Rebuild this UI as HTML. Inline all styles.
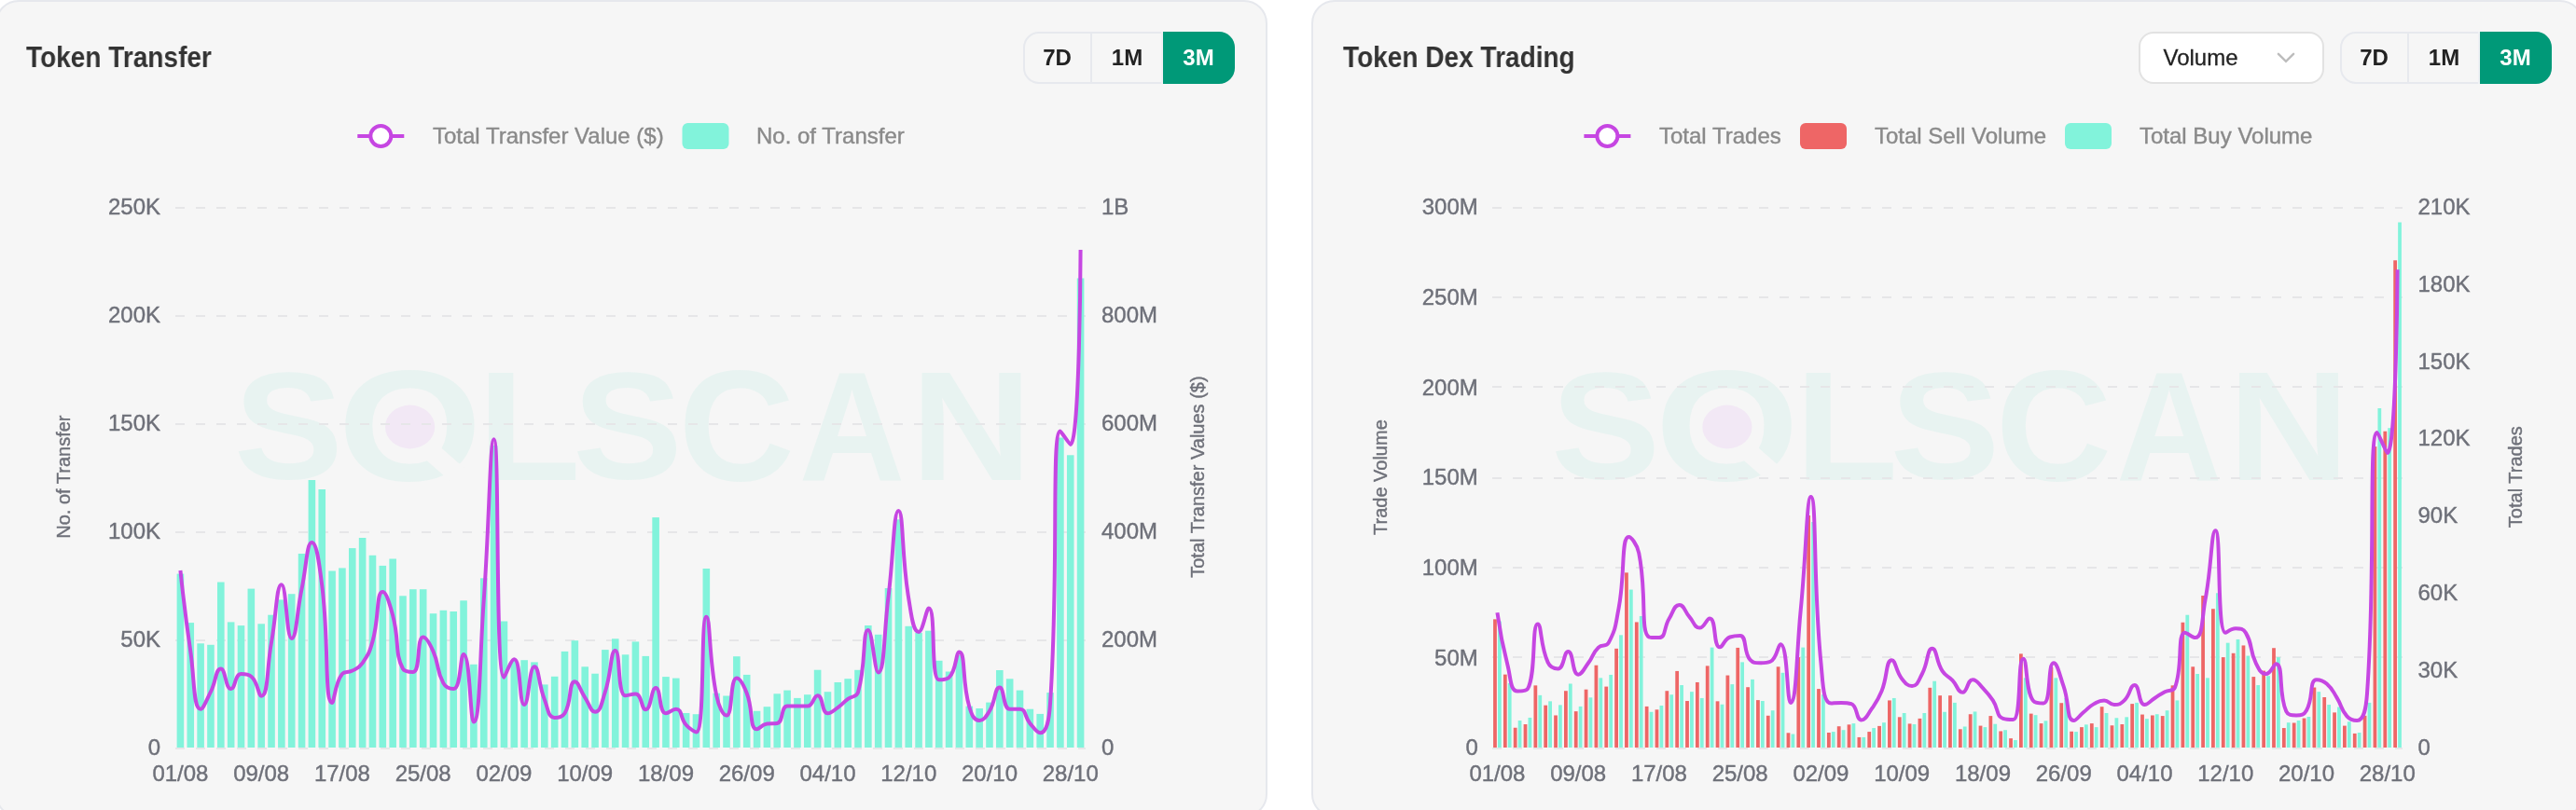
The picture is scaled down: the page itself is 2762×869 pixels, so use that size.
<!DOCTYPE html>
<html lang="en">
<head>
<meta charset="utf-8">
<title>Token Analytics</title>
<style>
html,body{margin:0;padding:0;background:#fff;width:2762px;height:869px;}
.page{width:2762px;height:869px;overflow:hidden;position:relative;background:#fff;font-family:"Liberation Sans",Arial,Helvetica,sans-serif;}
.card{position:absolute;top:0;height:877px;width:1364px;box-sizing:border-box;background:#f6f6f6;border:2px solid #e6e8ed;border-radius:25px;}
.card.c1{left:-5.5px;}
.card.c2{left:1405.5px;}
.title{position:absolute;top:39px;margin:0;font-size:32px;line-height:40px;font-weight:bold;color:#333;white-space:nowrap;transform-origin:0 50%;transform:scaleX(0.876);}
.seg{position:absolute;top:32px;height:56px;width:227px;}
.seg .frame{position:absolute;left:0;top:0;width:227px;height:56px;box-sizing:border-box;border:2px solid #e7e9ee;border-radius:17px;}
.seg span{position:absolute;top:0;height:56px;font-size:24px;font-weight:bold;line-height:55px;text-align:center;color:#222;}
.seg .b7{left:0;width:73px;}
.seg .b7:after{content:"";position:absolute;right:-1px;top:2px;width:2px;height:52px;background:#e7e9ee;}
.seg .b1:after{content:"";position:absolute;right:0;top:0;width:2px;height:56px;background:#eff0f4;}
.seg .b1{left:73px;width:77px;}

.seg .b3{left:150px;width:77px;text-indent:-1px;background:#009978;color:#fff;border-radius:0 17px 17px 0;}
.select{position:absolute;left:885.5px;top:32px;width:199px;height:56px;box-sizing:border-box;border:2px solid #e2e2e2;border-radius:16px;background:#fff;font-size:24px;line-height:51px;color:#222;padding-left:24.5px;-webkit-text-stroke:0.3px #222;}
.select svg{position:absolute;left:145px;top:20px;}
svg.charts{position:absolute;overflow:visible;}
.title,.seg,.select,svg.charts{will-change:transform;}
svg.charts text{stroke-width:0.4px;}
svg.charts g.wm text{stroke:none;}
</style>
</head>
<body>
<main class="page">
<section class="card c1">
<h2 class="title" style="left:31.5px">Token Transfer</h2>
<div class="seg" style="left:1100.5px"><div class="frame"></div><span class="b7">7D</span><span class="b1">1M</span><span class="b3">3M</span></div>
<svg class="charts" style="left:3.5px;top:-2px" width="1380" height="869" viewBox="0 0 1380 869" font-family='"Liberation Sans", Arial, Helvetica, sans-serif'>
<g class="chart-transfer">
<g class="wm" font-weight="bold" font-size="161" fill="#e8f3f1"><text transform="translate(250.74 512.98) scale(1.0917 1.0114)">S</text><text transform="translate(362.16 515.4) scale(1.2342 1.0482)">O</text><text transform="translate(512.12 515) scale(1.1256 1.0387)">L</text><text transform="translate(614.11 512.98) scale(1.0979 1.0114)">S</text><text transform="translate(727.4 515.4) scale(1.0714 1.0482)">C</text><text transform="translate(856.79 515) scale(0.9769 1.0387)">A</text><text transform="translate(976.6 515) scale(1.1181 1.0387)">N</text></g><line x1="461.3" y1="483.7" x2="498.3" y2="516.2" stroke="#f6f6f6" stroke-width="20.5"/><ellipse cx="439.6" cy="458" rx="26.6" ry="23.4" fill="#f2e8f5"/>
<g stroke="#e6e6e8" stroke-width="2" stroke-dasharray="10 12"><line x1="188" x2="1164" y1="803" y2="803"/><line x1="188" x2="1164" y1="687" y2="687"/><line x1="188" x2="1164" y1="571" y2="571"/><line x1="188" x2="1164" y1="455" y2="455"/><line x1="188" x2="1164" y1="339" y2="339"/><line x1="188" x2="1164" y1="223" y2="223"/></g>
<g fill="#82f3db"><rect x="189.63" y="615.6" width="7.59" height="186.4"/><rect x="200.47" y="668.1" width="7.59" height="133.9"/><rect x="211.32" y="690.3" width="7.59" height="111.7"/><rect x="222.16" y="691.8" width="7.59" height="110.2"/><rect x="233" y="624.5" width="7.59" height="177.5"/><rect x="243.85" y="667.4" width="7.59" height="134.6"/><rect x="254.69" y="671.1" width="7.59" height="130.9"/><rect x="265.54" y="631.6" width="7.59" height="170.4"/><rect x="276.38" y="669.3" width="7.59" height="132.7"/><rect x="287.23" y="659.7" width="7.59" height="142.3"/><rect x="298.07" y="643.4" width="7.59" height="158.6"/><rect x="308.92" y="637.2" width="7.59" height="164.8"/><rect x="319.76" y="594" width="7.59" height="208"/><rect x="330.6" y="515" width="7.59" height="287"/><rect x="341.45" y="525" width="7.59" height="277"/><rect x="352.29" y="612.5" width="7.59" height="189.5"/><rect x="363.14" y="609.4" width="7.59" height="192.6"/><rect x="373.98" y="588.1" width="7.59" height="213.9"/><rect x="384.83" y="577" width="7.59" height="225"/><rect x="395.67" y="595.8" width="7.59" height="206.2"/><rect x="406.52" y="606.9" width="7.59" height="195.1"/><rect x="417.36" y="599.5" width="7.59" height="202.5"/><rect x="428.2" y="639.3" width="7.59" height="162.7"/><rect x="439.05" y="632.2" width="7.59" height="169.8"/><rect x="449.89" y="632.2" width="7.59" height="169.8"/><rect x="460.74" y="658.2" width="7.59" height="143.8"/><rect x="471.58" y="654.8" width="7.59" height="147.2"/><rect x="482.43" y="656" width="7.59" height="146"/><rect x="493.27" y="644.3" width="7.59" height="157.7"/><rect x="504.12" y="712.8" width="7.59" height="89.2"/><rect x="514.96" y="620.3" width="7.59" height="181.7"/><rect x="525.8" y="478" width="7.59" height="324"/><rect x="536.65" y="666.5" width="7.59" height="135.5"/><rect x="547.49" y="709" width="7.59" height="93"/><rect x="558.34" y="708.2" width="7.59" height="93.8"/><rect x="569.18" y="710.4" width="7.59" height="91.6"/><rect x="580.03" y="734.4" width="7.59" height="67.6"/><rect x="590.87" y="725.8" width="7.59" height="76.2"/><rect x="601.72" y="698.9" width="7.59" height="103.1"/><rect x="612.56" y="687.2" width="7.59" height="114.8"/><rect x="623.4" y="715.3" width="7.59" height="86.7"/><rect x="634.25" y="722.7" width="7.59" height="79.3"/><rect x="645.09" y="697.1" width="7.59" height="104.9"/><rect x="655.94" y="685.3" width="7.59" height="116.7"/><rect x="666.78" y="702.3" width="7.59" height="99.7"/><rect x="677.63" y="688.4" width="7.59" height="113.6"/><rect x="688.47" y="703.9" width="7.59" height="98.1"/><rect x="699.32" y="555.1" width="7.59" height="246.9"/><rect x="710.16" y="726.1" width="7.59" height="75.9"/><rect x="721" y="727.6" width="7.59" height="74.4"/><rect x="731.85" y="765" width="7.59" height="37"/><rect x="742.69" y="766.2" width="7.59" height="35.8"/><rect x="753.54" y="610" width="7.59" height="192"/><rect x="764.38" y="743.7" width="7.59" height="58.3"/><rect x="775.23" y="746.5" width="7.59" height="55.5"/><rect x="786.07" y="704.2" width="7.59" height="97.8"/><rect x="796.92" y="723.9" width="7.59" height="78.1"/><rect x="807.76" y="762.8" width="7.59" height="39.2"/><rect x="818.6" y="758.2" width="7.59" height="43.8"/><rect x="829.45" y="744.3" width="7.59" height="57.7"/><rect x="840.29" y="740.6" width="7.59" height="61.4"/><rect x="851.14" y="748.9" width="7.59" height="53.1"/><rect x="861.98" y="745.2" width="7.59" height="56.8"/><rect x="872.83" y="718.7" width="7.59" height="83.3"/><rect x="883.67" y="742.2" width="7.59" height="59.8"/><rect x="894.52" y="732" width="7.59" height="70"/><rect x="905.36" y="728.2" width="7.59" height="73.8"/><rect x="916.2" y="718.8" width="7.59" height="83.2"/><rect x="927.05" y="671" width="7.59" height="131"/><rect x="937.89" y="680.8" width="7.59" height="121.2"/><rect x="948.74" y="631" width="7.59" height="171"/><rect x="959.58" y="557.3" width="7.59" height="244.7"/><rect x="970.43" y="671.8" width="7.59" height="130.2"/><rect x="981.27" y="678.9" width="7.59" height="123.1"/><rect x="992.12" y="676.7" width="7.59" height="125.3"/><rect x="1002.96" y="708.8" width="7.59" height="93.2"/><rect x="1013.8" y="720.5" width="7.59" height="81.5"/><rect x="1024.65" y="703" width="7.59" height="99"/><rect x="1035.49" y="757.6" width="7.59" height="44.4"/><rect x="1046.34" y="760" width="7.59" height="42"/><rect x="1057.18" y="753.6" width="7.59" height="48.4"/><rect x="1068.03" y="719" width="7.59" height="83"/><rect x="1078.87" y="728.3" width="7.59" height="73.7"/><rect x="1089.72" y="740.6" width="7.59" height="61.4"/><rect x="1100.56" y="760.7" width="7.59" height="41.3"/><rect x="1111.4" y="765.9" width="7.59" height="36.1"/><rect x="1122.25" y="743.1" width="7.59" height="58.9"/><rect x="1133.09" y="469.5" width="7.59" height="332.5"/><rect x="1143.94" y="488.3" width="7.59" height="313.7"/><rect x="1154.78" y="298.5" width="7.59" height="503.5"/></g>
<path d="M193.42 612C193.42 612 197.95 655.58 204.27 698.9C208.79 729.93 207.03 760.7 215.11 760.7C217.87 760.7 221.15 751.77 225.96 742.2C232 730.17 231.08 717.5 236.8 717.5C241.92 717.5 241.63 739.1 247.64 739.1C252.47 739.1 251.61 723 258.49 723C262.46 723 265.85 723 269.33 725.8C276.69 731.71 277.07 746.8 280.18 746.8C287.91 746.8 285.77 717.93 291.02 689C296.62 658.18 296.27 627.3 301.87 627.3C307.11 627.3 307.09 685 312.71 685C317.93 685 317.94 658.26 323.56 631.6C328.79 606.76 328.78 582 334.4 582C339.62 582 342.3 604.55 345.24 627.9C353.14 690.5 347.47 753.9 356.09 753.9C358.32 753.9 358.88 732.8 366.93 723C369.73 719.6 372.85 722.26 377.78 719.6C383.7 716.41 384.85 716.78 388.62 711.3C395.7 701.03 395.99 700.34 399.47 688.1C406.83 662.19 403.12 635 410.31 635C413.96 635 417.67 647.06 421.16 660.3C428.52 688.31 422.93 700.08 432 717.5C433.77 720.9 440.39 720.9 442.84 720.9C451.24 720.9 446.38 683.5 453.69 683.5C457.22 683.5 460.79 690.37 464.53 698.9C471.63 715.07 467.35 718.01 475.38 732.9C478.19 738.11 483.57 739.1 486.22 739.1C494.42 739.1 493.33 702 497.07 702C504.17 702 504.03 774.6 507.91 774.6C514.87 774.6 514.06 709.05 518.76 643.4C524.91 557.4 525.23 471.3 529.6 471.3C536.08 471.3 530.47 726.7 540.44 726.7C541.31 726.7 547.95 707.3 551.29 707.3C558.79 707.3 556.25 756 562.13 756C567.1 756 567.19 715.3 572.98 715.3C578.04 715.3 577.06 733.47 583.82 750.5C587.9 760.77 587.58 769.9 594.67 769.9C598.42 769.9 602.82 769.9 605.51 765.3C613.66 751.36 609.43 731.3 616.36 731.3C620.27 731.3 621.6 739.92 627.2 748.3C632.45 756.17 633.28 763.8 638.04 763.8C644.13 763.8 645.13 753.61 648.89 742.2C655.97 720.71 654.53 698 659.73 698C665.38 698 661.7 746.2 670.58 746.2C672.55 746.2 677.57 744.6 681.42 744.6C688.42 744.6 687.52 761.3 692.27 761.3C698.37 761.3 698.05 738.1 703.11 738.1C708.9 738.1 706.22 765.3 713.96 765.3C717.07 765.3 720.8 760.7 724.8 760.7C731.65 760.7 729.11 770.26 735.64 777.7C739.95 782.61 745.44 785.4 746.49 785.4C756.28 785.4 750.89 661.7 757.33 661.7C761.74 661.7 759.74 704.72 768.18 745.9C770.58 757.62 775.02 767.5 779.02 767.5C785.87 767.5 782.49 727.6 789.87 727.6C793.33 727.6 797.17 734.78 800.71 743.7C808.02 762.13 803.25 782.3 811.56 782.3C814.09 782.3 816.65 777.28 822.4 776.6C827.5 776 829.59 776.6 833.24 776C840.43 774.82 836.9 757.6 844.09 757.6C847.74 757.6 849.51 757.6 854.93 757.6C860.36 757.6 861.35 757.6 865.78 757.6C872.2 757.6 872.1 746.2 876.62 746.2C882.94 746.2 880.55 765.3 887.47 765.3C891.4 765.3 893.24 762.7 898.31 759.1C904.08 755 903.48 754.16 909.16 749.9C914.33 746.01 918.26 748.74 920 742.8C929.1 711.79 924.43 676 930.84 676C935.27 676 937.76 721.4 941.69 721.4C948.6 721.4 947.44 680.74 952.53 640C958.28 594.04 958.01 548 963.38 548C968.85 548 966.47 595.38 974.22 641.8C977.32 660.33 978.8 677.9 985.07 677.9C989.64 677.9 993.07 652.6 995.91 652.6C1003.91 652.6 997.27 729.2 1006.76 729.2C1008.12 729.2 1014.61 729.2 1017.6 726.7C1025.46 720.12 1024.88 699.5 1028.44 699.5C1035.72 699.5 1030.99 730.09 1039.29 758.2C1041.84 766.84 1044.15 773 1050.13 773C1054.99 773 1057.17 769.03 1060.98 762.8C1068.02 751.28 1066.2 737.5 1071.82 737.5C1077.05 737.5 1075.05 760.7 1082.67 760.7C1085.89 760.7 1089.55 760.7 1093.51 760.7C1100.39 760.7 1098.3 768.95 1104.36 776.1C1109.14 781.75 1111.87 786.3 1115.2 786.3C1122.71 786.3 1124.93 771.2 1126.04 754.5C1135.77 609.35 1126.67 462.6 1136.89 462.6C1137.52 462.6 1146.87 477 1147.73 477C1157.72 477 1158.58 268 1158.58 268" fill="none" stroke="#c646e2" stroke-width="4" stroke-linejoin="round"/>
<text x="172" y="810.2" font-size="24" fill="#6E7079" stroke="#6E7079" text-anchor="end">0</text>
<text x="172" y="694.2" font-size="24" fill="#6E7079" stroke="#6E7079" text-anchor="end">50K</text>
<text x="172" y="578.2" font-size="24" fill="#6E7079" stroke="#6E7079" text-anchor="end">100K</text>
<text x="172" y="462.2" font-size="24" fill="#6E7079" stroke="#6E7079" text-anchor="end">150K</text>
<text x="172" y="346.2" font-size="24" fill="#6E7079" stroke="#6E7079" text-anchor="end">200K</text>
<text x="172" y="230.2" font-size="24" fill="#6E7079" stroke="#6E7079" text-anchor="end">250K</text>
<text x="1181" y="810.2" font-size="24" fill="#6E7079" stroke="#6E7079" text-anchor="start">0</text>
<text x="1181" y="694.2" font-size="24" fill="#6E7079" stroke="#6E7079" text-anchor="start">200M</text>
<text x="1181" y="578.2" font-size="24" fill="#6E7079" stroke="#6E7079" text-anchor="start">400M</text>
<text x="1181" y="462.2" font-size="24" fill="#6E7079" stroke="#6E7079" text-anchor="start">600M</text>
<text x="1181" y="346.2" font-size="24" fill="#6E7079" stroke="#6E7079" text-anchor="start">800M</text>
<text x="1181" y="230.2" font-size="24" fill="#6E7079" stroke="#6E7079" text-anchor="start">1B</text>
<text x="193.42" y="838" font-size="24" fill="#6E7079" stroke="#6E7079" text-anchor="middle">01/08</text><text x="280.18" y="838" font-size="24" fill="#6E7079" stroke="#6E7079" text-anchor="middle">09/08</text><text x="366.93" y="838" font-size="24" fill="#6E7079" stroke="#6E7079" text-anchor="middle">17/08</text><text x="453.69" y="838" font-size="24" fill="#6E7079" stroke="#6E7079" text-anchor="middle">25/08</text><text x="540.44" y="838" font-size="24" fill="#6E7079" stroke="#6E7079" text-anchor="middle">02/09</text><text x="627.2" y="838" font-size="24" fill="#6E7079" stroke="#6E7079" text-anchor="middle">10/09</text><text x="713.96" y="838" font-size="24" fill="#6E7079" stroke="#6E7079" text-anchor="middle">18/09</text><text x="800.71" y="838" font-size="24" fill="#6E7079" stroke="#6E7079" text-anchor="middle">26/09</text><text x="887.47" y="838" font-size="24" fill="#6E7079" stroke="#6E7079" text-anchor="middle">04/10</text><text x="974.22" y="838" font-size="24" fill="#6E7079" stroke="#6E7079" text-anchor="middle">12/10</text><text x="1060.98" y="838" font-size="24" fill="#6E7079" stroke="#6E7079" text-anchor="middle">20/10</text><text x="1147.73" y="838" font-size="24" fill="#6E7079" stroke="#6E7079" text-anchor="middle">28/10</text>
<text transform="translate(74.9 511.6) rotate(-90)" font-size="20" fill="#6E7079" stroke="#6E7079" text-anchor="middle">No. of Transfer</text>
<text transform="translate(1291 511.6) rotate(-90)" font-size="20" fill="#6E7079" stroke="#6E7079" text-anchor="middle">Total Transfer Values ($)</text>
<line x1="383.3" x2="433.3" y1="146" y2="146" stroke="#c646e2" stroke-width="4"/><circle cx="408.3" cy="146" r="11" fill="#fff" stroke="#c646e2" stroke-width="4"/>
<text x="464" y="154" font-size="24" fill="#8a8a8a" stroke="#8a8a8a" text-anchor="start">Total Transfer Value ($)</text>
<rect x="731.5" y="132" width="50" height="28" rx="6" fill="#82f3db"/>
<text x="811" y="154" font-size="24" fill="#8a8a8a" stroke="#8a8a8a" text-anchor="start">No. of Transfer</text>
</g>
</svg>
</section>
<section class="card c2">
<h2 class="title" style="left:32.5px">Token Dex Trading</h2>
<div class="select">Volume<svg width="24" height="16" viewBox="0 0 24 16"><path d="M2.9 1.9 L11 9.8 L19.1 1.9" fill="none" stroke="#bdbdbd" stroke-width="2.5" stroke-linecap="round" stroke-linejoin="miter"/></svg></div>
<div class="seg" style="left:1101.5px"><div class="frame"></div><span class="b7">7D</span><span class="b1">1M</span><span class="b3">3M</span></div>
<svg class="charts" style="left:-27.5px;top:-2px" width="1382" height="869" viewBox="1380 0 1382 869" font-family='"Liberation Sans", Arial, Helvetica, sans-serif'>
<g class="chart-dex">
<g class="wm" font-weight="bold" font-size="161" fill="#e8f3f1"><text transform="translate(1663.04 512.98) scale(1.0917 1.0114)">S</text><text transform="translate(1774.46 515.4) scale(1.2342 1.0482)">O</text><text transform="translate(1924.42 515) scale(1.1256 1.0387)">L</text><text transform="translate(2026.41 512.98) scale(1.0979 1.0114)">S</text><text transform="translate(2139.7 515.4) scale(1.0714 1.0482)">C</text><text transform="translate(2269.09 515) scale(0.9769 1.0387)">A</text><text transform="translate(2388.9 515) scale(1.1181 1.0387)">N</text></g><line x1="1873.6" y1="483.7" x2="1910.6" y2="516.2" stroke="#f6f6f6" stroke-width="20.5"/><ellipse cx="1851.9" cy="458" rx="26.6" ry="23.4" fill="#f2e8f5"/>
<g stroke="#e6e6e8" stroke-width="2" stroke-dasharray="10 12"><line x1="1600" x2="2576" y1="803" y2="803"/><line x1="1600" x2="2576" y1="705" y2="705"/><line x1="1600" x2="2576" y1="609" y2="609"/><line x1="1600" x2="2576" y1="513" y2="513"/><line x1="1600" x2="2576" y1="415" y2="415"/><line x1="1600" x2="2576" y1="319" y2="319"/><line x1="1600" x2="2576" y1="223" y2="223"/></g>
<g fill="#ee6666"><rect x="1601.08" y="664.35" width="3.77" height="137.65"/><rect x="1611.93" y="723.63" width="3.77" height="78.37"/><rect x="1622.77" y="780.75" width="3.77" height="21.25"/><rect x="1633.62" y="777.04" width="3.77" height="24.96"/><rect x="1644.46" y="735.36" width="3.77" height="66.64"/><rect x="1655.31" y="756.67" width="3.77" height="45.33"/><rect x="1666.15" y="767.47" width="3.77" height="34.53"/><rect x="1677" y="741.23" width="3.77" height="60.77"/><rect x="1687.84" y="763.15" width="3.77" height="38.85"/><rect x="1698.68" y="739.69" width="3.77" height="62.31"/><rect x="1709.53" y="713.75" width="3.77" height="88.25"/><rect x="1720.37" y="736.6" width="3.77" height="65.4"/><rect x="1731.22" y="695.84" width="3.77" height="106.16"/><rect x="1742.06" y="614.34" width="3.77" height="187.66"/><rect x="1752.91" y="667.44" width="3.77" height="134.56"/><rect x="1763.75" y="757.9" width="3.77" height="44.1"/><rect x="1774.6" y="761.3" width="3.77" height="40.7"/><rect x="1785.44" y="741.23" width="3.77" height="60.77"/><rect x="1796.28" y="719.93" width="3.77" height="82.07"/><rect x="1807.13" y="752.03" width="3.77" height="49.97"/><rect x="1817.97" y="731.97" width="3.77" height="70.03"/><rect x="1828.82" y="714.37" width="3.77" height="87.63"/><rect x="1839.66" y="752.34" width="3.77" height="49.66"/><rect x="1850.51" y="724.56" width="3.77" height="77.44"/><rect x="1861.35" y="694.92" width="3.77" height="107.08"/><rect x="1872.2" y="737.22" width="3.77" height="64.78"/><rect x="1883.04" y="751.11" width="3.77" height="50.89"/><rect x="1893.88" y="767.78" width="3.77" height="34.22"/><rect x="1904.73" y="715.29" width="3.77" height="86.71"/><rect x="1915.57" y="786.3" width="3.77" height="15.7"/><rect x="1926.42" y="705.11" width="3.77" height="96.89"/><rect x="1937.26" y="553" width="3.77" height="249"/><rect x="1948.11" y="739.07" width="3.77" height="62.93"/><rect x="1958.95" y="786" width="3.77" height="16"/><rect x="1969.8" y="779.2" width="3.77" height="22.8"/><rect x="1980.64" y="777.35" width="3.77" height="24.65"/><rect x="1991.48" y="790.94" width="3.77" height="11.06"/><rect x="2002.33" y="785.07" width="3.77" height="16.93"/><rect x="2013.17" y="778.89" width="3.77" height="23.11"/><rect x="2024.02" y="751.42" width="3.77" height="50.58"/><rect x="2034.86" y="769.32" width="3.77" height="32.68"/><rect x="2045.71" y="776.42" width="3.77" height="25.58"/><rect x="2056.55" y="770.87" width="3.77" height="31.13"/><rect x="2067.4" y="737.83" width="3.77" height="64.17"/><rect x="2078.24" y="746.17" width="3.77" height="55.83"/><rect x="2089.08" y="746.17" width="3.77" height="55.83"/><rect x="2099.93" y="782.29" width="3.77" height="19.71"/><rect x="2110.77" y="766.24" width="3.77" height="35.76"/><rect x="2121.62" y="778.59" width="3.77" height="23.41"/><rect x="2132.46" y="768.09" width="3.77" height="33.91"/><rect x="2143.31" y="784.45" width="3.77" height="17.55"/><rect x="2154.15" y="792.17" width="3.77" height="9.83"/><rect x="2165" y="701.4" width="3.77" height="100.6"/><rect x="2175.84" y="765.62" width="3.77" height="36.38"/><rect x="2186.68" y="776.12" width="3.77" height="25.88"/><rect x="2197.53" y="715.91" width="3.77" height="86.09"/><rect x="2208.37" y="754.2" width="3.77" height="47.8"/><rect x="2219.22" y="784.76" width="3.77" height="17.24"/><rect x="2230.06" y="780.13" width="3.77" height="21.87"/><rect x="2240.91" y="776.12" width="3.77" height="25.88"/><rect x="2251.75" y="758.21" width="3.77" height="43.79"/><rect x="2262.6" y="778.28" width="3.77" height="23.72"/><rect x="2273.44" y="777.04" width="3.77" height="24.96"/><rect x="2284.28" y="755.12" width="3.77" height="46.88"/><rect x="2295.13" y="766.55" width="3.77" height="35.45"/><rect x="2305.97" y="767.47" width="3.77" height="34.53"/><rect x="2316.82" y="768.09" width="3.77" height="33.91"/><rect x="2327.66" y="735.36" width="3.77" height="66.64"/><rect x="2338.51" y="667.75" width="3.77" height="134.25"/><rect x="2349.35" y="715.29" width="3.77" height="86.71"/><rect x="2360.2" y="639.04" width="3.77" height="162.96"/><rect x="2371.04" y="653.24" width="3.77" height="148.76"/><rect x="2381.88" y="705.11" width="3.77" height="96.89"/><rect x="2392.73" y="700.78" width="3.77" height="101.22"/><rect x="2403.57" y="692.45" width="3.77" height="109.55"/><rect x="2414.42" y="726.1" width="3.77" height="75.9"/><rect x="2425.26" y="719.62" width="3.77" height="82.38"/><rect x="2436.11" y="695.23" width="3.77" height="106.77"/><rect x="2446.95" y="781.06" width="3.77" height="20.94"/><rect x="2457.8" y="775.5" width="3.77" height="26.5"/><rect x="2468.64" y="770.56" width="3.77" height="31.44"/><rect x="2479.48" y="737.52" width="3.77" height="64.48"/><rect x="2490.33" y="748.02" width="3.77" height="53.98"/><rect x="2501.17" y="764.38" width="3.77" height="37.62"/><rect x="2512.02" y="778.59" width="3.77" height="23.41"/><rect x="2522.86" y="786.92" width="3.77" height="15.08"/><rect x="2533.71" y="767.78" width="3.77" height="34.22"/><rect x="2544.55" y="479.1" width="3.77" height="322.9"/><rect x="2555.4" y="462.7" width="3.77" height="339.3"/><rect x="2566.24" y="279.3" width="3.77" height="522.7"/></g>
<g fill="#82f3db"><rect x="1605.99" y="666.51" width="3.77" height="135.49"/><rect x="1616.83" y="732.89" width="3.77" height="69.11"/><rect x="1627.68" y="773.03" width="3.77" height="28.97"/><rect x="1638.52" y="769.94" width="3.77" height="32.06"/><rect x="1649.37" y="745.86" width="3.77" height="56.14"/><rect x="1660.21" y="752.34" width="3.77" height="49.66"/><rect x="1671.05" y="756.36" width="3.77" height="45.64"/><rect x="1681.9" y="733.51" width="3.77" height="68.49"/><rect x="1692.74" y="757.9" width="3.77" height="44.1"/><rect x="1703.59" y="748.33" width="3.77" height="53.67"/><rect x="1714.43" y="727.34" width="3.77" height="74.66"/><rect x="1725.28" y="723.94" width="3.77" height="78.06"/><rect x="1736.12" y="681.33" width="3.77" height="120.67"/><rect x="1746.97" y="632.55" width="3.77" height="169.45"/><rect x="1757.81" y="660.96" width="3.77" height="141.04"/><rect x="1768.65" y="763.77" width="3.77" height="38.23"/><rect x="1779.5" y="756.97" width="3.77" height="45.03"/><rect x="1790.34" y="745.24" width="3.77" height="56.76"/><rect x="1801.19" y="735.05" width="3.77" height="66.95"/><rect x="1812.03" y="742.15" width="3.77" height="59.85"/><rect x="1822.88" y="748.95" width="3.77" height="53.05"/><rect x="1833.72" y="694.61" width="3.77" height="107.39"/><rect x="1844.57" y="755.74" width="3.77" height="46.26"/><rect x="1855.41" y="734.13" width="3.77" height="67.87"/><rect x="1866.25" y="710.36" width="3.77" height="91.64"/><rect x="1877.1" y="728.88" width="3.77" height="73.12"/><rect x="1887.94" y="752.03" width="3.77" height="49.97"/><rect x="1898.79" y="762.22" width="3.77" height="39.78"/><rect x="1909.63" y="721.78" width="3.77" height="80.22"/><rect x="1920.48" y="787.54" width="3.77" height="14.46"/><rect x="1931.32" y="694.61" width="3.77" height="107.39"/><rect x="1942.17" y="560" width="3.77" height="242"/><rect x="1953.01" y="745.24" width="3.77" height="56.76"/><rect x="1963.85" y="785.07" width="3.77" height="16.93"/><rect x="1974.7" y="783.22" width="3.77" height="18.78"/><rect x="1985.54" y="776.12" width="3.77" height="25.88"/><rect x="1996.39" y="790.94" width="3.77" height="11.06"/><rect x="2007.23" y="781.06" width="3.77" height="20.94"/><rect x="2018.08" y="775.19" width="3.77" height="26.81"/><rect x="2028.92" y="748.95" width="3.77" height="53.05"/><rect x="2039.77" y="765" width="3.77" height="37"/><rect x="2050.61" y="777.04" width="3.77" height="24.96"/><rect x="2061.45" y="765" width="3.77" height="37"/><rect x="2072.3" y="730.73" width="3.77" height="71.27"/><rect x="2083.14" y="763.77" width="3.77" height="38.23"/><rect x="2093.99" y="753.89" width="3.77" height="48.11"/><rect x="2104.83" y="779.51" width="3.77" height="22.49"/><rect x="2115.68" y="763.46" width="3.77" height="38.54"/><rect x="2126.52" y="780.13" width="3.77" height="21.87"/><rect x="2137.37" y="776.73" width="3.77" height="25.27"/><rect x="2148.21" y="783.22" width="3.77" height="18.78"/><rect x="2159.05" y="794.02" width="3.77" height="7.98"/><rect x="2169.9" y="727.34" width="3.77" height="74.66"/><rect x="2180.74" y="767.16" width="3.77" height="34.84"/><rect x="2191.59" y="773.34" width="3.77" height="28.66"/><rect x="2202.43" y="727.34" width="3.77" height="74.66"/><rect x="2213.28" y="748.95" width="3.77" height="53.05"/><rect x="2224.12" y="785.07" width="3.77" height="16.93"/><rect x="2234.97" y="777.35" width="3.77" height="24.65"/><rect x="2245.81" y="780.13" width="3.77" height="21.87"/><rect x="2256.65" y="765" width="3.77" height="37"/><rect x="2267.5" y="770.25" width="3.77" height="31.75"/><rect x="2278.34" y="769.32" width="3.77" height="32.68"/><rect x="2289.19" y="753.89" width="3.77" height="48.11"/><rect x="2300.03" y="771.18" width="3.77" height="30.82"/><rect x="2310.88" y="766.24" width="3.77" height="35.76"/><rect x="2321.72" y="762.22" width="3.77" height="39.78"/><rect x="2332.57" y="751.42" width="3.77" height="50.58"/><rect x="2343.41" y="659.72" width="3.77" height="142.28"/><rect x="2354.25" y="723.01" width="3.77" height="78.99"/><rect x="2365.1" y="727.34" width="3.77" height="74.66"/><rect x="2375.94" y="636.26" width="3.77" height="165.74"/><rect x="2386.79" y="689.67" width="3.77" height="112.33"/><rect x="2397.63" y="685.96" width="3.77" height="116.04"/><rect x="2408.48" y="703.56" width="3.77" height="98.44"/><rect x="2419.32" y="735.05" width="3.77" height="66.95"/><rect x="2430.17" y="725.17" width="3.77" height="76.83"/><rect x="2441.01" y="705.11" width="3.77" height="96.89"/><rect x="2451.85" y="775.19" width="3.77" height="26.81"/><rect x="2462.7" y="773.03" width="3.77" height="28.97"/><rect x="2473.54" y="769.02" width="3.77" height="32.98"/><rect x="2484.39" y="742.15" width="3.77" height="59.85"/><rect x="2495.23" y="756.05" width="3.77" height="45.95"/><rect x="2506.08" y="758.52" width="3.77" height="43.48"/><rect x="2516.92" y="774.26" width="3.77" height="27.74"/><rect x="2527.77" y="786" width="3.77" height="16"/><rect x="2538.61" y="753.89" width="3.77" height="48.11"/><rect x="2549.45" y="438" width="3.77" height="364"/><rect x="2560.3" y="459.2" width="3.77" height="342.8"/><rect x="2571.14" y="238.5" width="3.77" height="563.5"/></g>
<path d="M1605.42 657.25C1605.42 657.25 1609.23 685.5 1616.27 712.82C1620.08 727.64 1619.15 741.54 1627.11 741.54C1630 741.54 1636.47 741.54 1637.96 739.07C1647.32 723.45 1642.04 669.6 1648.8 669.6C1652.88 669.6 1651.31 692.28 1659.64 710.66C1662.16 716.2 1666.44 717.46 1670.49 717.46C1677.28 717.46 1676.53 698.93 1681.33 698.93C1687.37 698.93 1685.44 723.63 1692.18 723.63C1696.28 723.63 1698.12 717.85 1703.02 711.28C1708.96 703.34 1707.09 701.37 1713.87 694.61C1717.93 690.56 1722.15 694.61 1724.71 689.67C1733 673.67 1731.94 671.54 1735.56 652.62C1742.79 614.73 1737.82 576.05 1746.4 576.05C1748.66 576.05 1755.25 583.49 1757.24 593.34C1766.1 637.21 1758.4 678.33 1768.09 683.49C1769.25 684.11 1775.49 684.11 1778.93 684.11C1786.34 684.11 1783.67 673.34 1789.78 663.43C1794.51 655.74 1795.01 648.92 1800.62 648.92C1805.86 648.92 1805.89 655.53 1811.47 661.88C1816.74 667.88 1816.7 673.62 1822.31 673.62C1827.54 673.62 1829.77 663.43 1833.16 663.43C1840.61 663.43 1836.61 694.3 1844 694.3C1847.46 694.3 1848.52 685.65 1854.84 683.49C1859.37 681.95 1862.65 681.95 1865.69 681.95C1873.49 681.95 1868.81 699.48 1876.53 707.89C1879.66 711.28 1881.86 711.28 1887.38 711.28C1892.7 711.28 1894.56 711.28 1898.22 709.74C1905.4 706.71 1906.33 691.21 1909.07 691.21C1917.17 691.21 1915.71 753.89 1919.91 753.89C1926.55 753.89 1925.85 703.99 1930.76 654C1936.69 593.55 1937.21 533 1941.6 533C1948.05 533 1943.77 622.64 1952.44 711.28C1954.61 733.4 1954.57 754.5 1963.29 754.5C1965.41 754.5 1968.72 753.89 1974.13 753.89C1979.57 753.89 1981.2 753.89 1984.98 755.12C1992.04 757.43 1989.74 772.41 1995.82 772.41C2000.58 772.41 2002.1 767.17 2006.67 760.68C2012.95 751.74 2013.33 751.66 2017.51 741.54C2024.17 725.41 2021.79 708.19 2028.36 708.19C2032.63 708.19 2032.35 719.49 2039.2 728.26C2043.2 733.38 2045.27 735.98 2050.04 735.98C2056.11 735.98 2056.92 730.36 2060.89 723.01C2067.76 710.29 2066.03 695.84 2071.73 695.84C2076.88 695.84 2075.61 709.01 2082.58 719.93C2086.45 725.99 2088.38 724.5 2093.42 729.81C2099.23 735.92 2098.92 742.77 2104.27 742.77C2109.76 742.77 2109.12 729.19 2115.11 729.19C2119.96 729.19 2121.07 733.13 2125.96 738.14C2131.91 744.25 2132.08 744.3 2136.8 751.42C2142.93 760.66 2140.37 768.35 2147.64 770.87C2151.21 772.1 2156.96 772.1 2158.49 772.1C2167.8 772.1 2162.97 706.65 2169.33 706.65C2173.81 706.65 2171.42 741.67 2180.18 752.03C2182.27 754.5 2188.86 754.5 2191.02 754.5C2199.7 754.5 2195.16 711.28 2201.87 711.28C2206.01 711.28 2208.15 723.63 2212.71 736.6C2219 754.5 2215.67 773.03 2223.56 773.03C2226.51 773.03 2228.9 768.31 2234.4 763.77C2239.75 759.35 2239.31 758.5 2245.24 755.12C2250.15 752.33 2250.74 751.42 2256.09 751.42C2261.59 751.42 2261.51 756.05 2266.93 756.05C2272.36 756.05 2273.71 755.36 2277.78 751.42C2284.55 744.86 2283.7 735.05 2288.62 735.05C2294.55 735.05 2292.46 756.05 2299.47 756.05C2303.31 756.05 2304.85 752.44 2310.31 748.95C2315.7 745.5 2315.51 745.13 2321.16 742.15C2326.36 739.41 2330.21 742.15 2332 737.5C2341.05 713.98 2333.82 678.86 2342.84 678.86C2344.67 678.86 2351.28 684.11 2353.69 684.11C2362.12 684.11 2360.63 664.05 2364.53 643.36C2371.47 606.62 2370.99 569.26 2375.38 569.26C2381.83 569.26 2376.43 678.86 2386.22 678.86C2387.27 678.86 2391.64 674.23 2397.07 674.23C2402.49 674.23 2405.13 674.23 2407.91 678.86C2415.97 692.29 2411.37 696.24 2418.76 711.28C2422.21 718.31 2424.06 723.01 2429.6 723.01C2434.91 723.01 2437.98 712.21 2440.44 712.21C2448.83 712.21 2442.43 743.87 2451.29 763.15C2453.27 767.47 2456.8 767.47 2462.13 767.47C2467.64 767.47 2470.19 767.15 2472.98 762.22C2481.03 748.01 2475.7 729.19 2483.82 729.19C2486.55 729.19 2490.45 729.79 2494.67 733.51C2501.3 739.36 2500.67 740.55 2505.51 748.33C2511.52 757.99 2509.21 760.26 2516.36 768.4C2520.05 772.61 2524.23 773.03 2527.2 773.03C2535.07 773.03 2536.96 759.23 2538.04 743.7C2547.8 604.66 2538.92 463.9 2548.89 463.9C2549.77 463.9 2558.53 486 2559.73 486C2569.37 486 2570.58 289.3 2570.58 289.3" fill="none" stroke="#c646e2" stroke-width="4" stroke-linejoin="round"/>
<text x="1584.8" y="810.2" font-size="24" fill="#6E7079" stroke="#6E7079" text-anchor="end">0</text>
<text x="1584.8" y="713.53" font-size="24" fill="#6E7079" stroke="#6E7079" text-anchor="end">50M</text>
<text x="1584.8" y="616.87" font-size="24" fill="#6E7079" stroke="#6E7079" text-anchor="end">100M</text>
<text x="1584.8" y="520.2" font-size="24" fill="#6E7079" stroke="#6E7079" text-anchor="end">150M</text>
<text x="1584.8" y="423.53" font-size="24" fill="#6E7079" stroke="#6E7079" text-anchor="end">200M</text>
<text x="1584.8" y="326.87" font-size="24" fill="#6E7079" stroke="#6E7079" text-anchor="end">250M</text>
<text x="1584.8" y="230.2" font-size="24" fill="#6E7079" stroke="#6E7079" text-anchor="end">300M</text>
<text x="2592.5" y="809.9" font-size="24" fill="#6E7079" stroke="#6E7079" text-anchor="start">0</text>
<text x="2592.5" y="727.04" font-size="24" fill="#6E7079" stroke="#6E7079" text-anchor="start">30K</text>
<text x="2592.5" y="644.19" font-size="24" fill="#6E7079" stroke="#6E7079" text-anchor="start">60K</text>
<text x="2592.5" y="561.33" font-size="24" fill="#6E7079" stroke="#6E7079" text-anchor="start">90K</text>
<text x="2592.5" y="478.47" font-size="24" fill="#6E7079" stroke="#6E7079" text-anchor="start">120K</text>
<text x="2592.5" y="395.61" font-size="24" fill="#6E7079" stroke="#6E7079" text-anchor="start">150K</text>
<text x="2592.5" y="312.76" font-size="24" fill="#6E7079" stroke="#6E7079" text-anchor="start">180K</text>
<text x="2592.5" y="229.9" font-size="24" fill="#6E7079" stroke="#6E7079" text-anchor="start">210K</text>
<text x="1605.42" y="838" font-size="24" fill="#6E7079" stroke="#6E7079" text-anchor="middle">01/08</text><text x="1692.18" y="838" font-size="24" fill="#6E7079" stroke="#6E7079" text-anchor="middle">09/08</text><text x="1778.93" y="838" font-size="24" fill="#6E7079" stroke="#6E7079" text-anchor="middle">17/08</text><text x="1865.69" y="838" font-size="24" fill="#6E7079" stroke="#6E7079" text-anchor="middle">25/08</text><text x="1952.44" y="838" font-size="24" fill="#6E7079" stroke="#6E7079" text-anchor="middle">02/09</text><text x="2039.2" y="838" font-size="24" fill="#6E7079" stroke="#6E7079" text-anchor="middle">10/09</text><text x="2125.96" y="838" font-size="24" fill="#6E7079" stroke="#6E7079" text-anchor="middle">18/09</text><text x="2212.71" y="838" font-size="24" fill="#6E7079" stroke="#6E7079" text-anchor="middle">26/09</text><text x="2299.47" y="838" font-size="24" fill="#6E7079" stroke="#6E7079" text-anchor="middle">04/10</text><text x="2386.22" y="838" font-size="24" fill="#6E7079" stroke="#6E7079" text-anchor="middle">12/10</text><text x="2472.98" y="838" font-size="24" fill="#6E7079" stroke="#6E7079" text-anchor="middle">20/10</text><text x="2559.73" y="838" font-size="24" fill="#6E7079" stroke="#6E7079" text-anchor="middle">28/10</text>
<text transform="translate(1486.7 512.1) rotate(-90)" font-size="20" fill="#6E7079" stroke="#6E7079" text-anchor="middle">Trade Volume</text>
<text transform="translate(2704.2 511.7) rotate(-90)" font-size="20" fill="#6E7079" stroke="#6E7079" text-anchor="middle">Total Trades</text>
<line x1="1698.4" x2="1748.4" y1="146" y2="146" stroke="#c646e2" stroke-width="4"/><circle cx="1723.4" cy="146" r="11" fill="#fff" stroke="#c646e2" stroke-width="4"/>
<text x="1779" y="154" font-size="24" fill="#8a8a8a" stroke="#8a8a8a" text-anchor="start">Total Trades</text>
<rect x="1930" y="132" width="50" height="28" rx="6" fill="#ee6666"/>
<text x="2010" y="154" font-size="24" fill="#8a8a8a" stroke="#8a8a8a" text-anchor="start">Total Sell Volume</text>
<rect x="2214" y="132" width="50" height="28" rx="6" fill="#82f3db"/>
<text x="2294" y="154" font-size="24" fill="#8a8a8a" stroke="#8a8a8a" text-anchor="start">Total Buy Volume</text>
</g>
</svg>
</section>
</main>
</body>
</html>
